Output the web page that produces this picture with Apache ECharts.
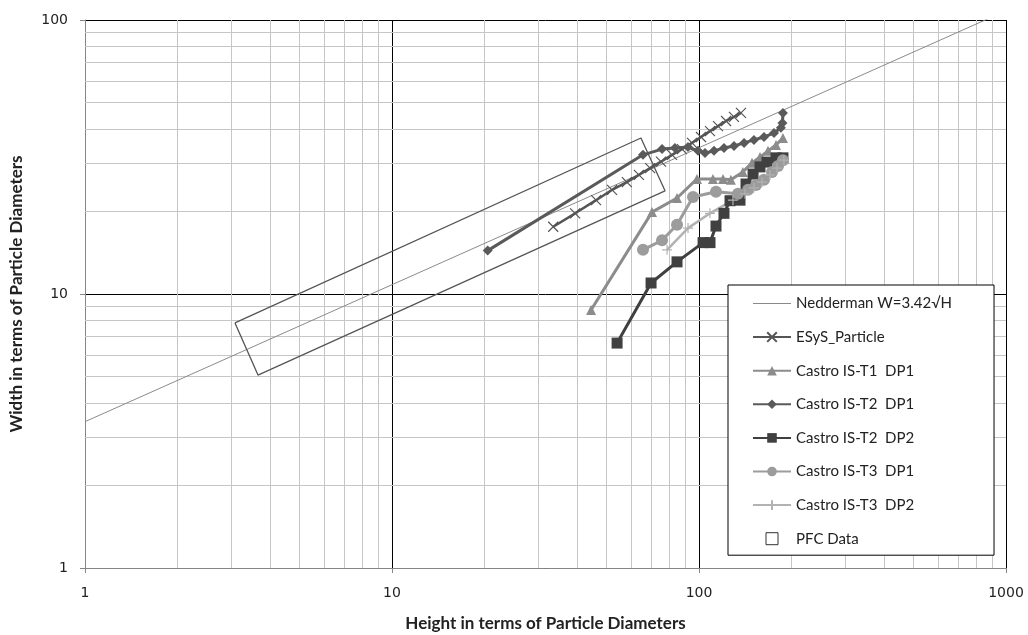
<!DOCTYPE html>
<html>
<head>
<meta charset="utf-8">
<script src="https://cdn.jsdelivr.net/npm/echarts@6/dist/echarts.min.js"></script>
<style>html,body{margin:0;padding:0;background:#fff}#c{width:1028px;height:635px}</style>
</head>
<body>
<div id="c"></div>
<script>
// ---- data ----
const xTickLabels = ['1', '10', '100', '1000'];
const yTickLabels = ['1', '10', '100'];
const minorTicksX = [2,3,4,5,6,7,8,9,20,30,40,50,60,70,80,90,200,300,400,500,600,700,800,900];
const minorTicksY = [2,3,4,5,6,7,8,9,20,30,40,50,60,70,80,90];

const nedderman = [[1, 3.42], [1000, 108.1]];
const esys = [[33.5,17.6],[39.5,19.7],[46.2,22.0],[52.1,24.0],[58.2,25.6],[63.7,27.2],[69.3,28.8],[75.2,30.4],[81.7,32.2],[88.0,33.8],[94.9,35.6],[101.5,37.4],[108.6,39.3],[115.3,41.0],[122.5,42.8],[130,44.3],[137,45.8]];
const t1dp1 = [[44.5,8.74],[70.3,19.9],[84.8,22.4],[98.5,26.3],[111,26.3],[119.7,26.3],[127,26.1],[139,27.9],[148.8,30.1],[158,31.6],[167.8,33.3],[178.2,35.0],[187.7,37.1]];
const t2dp1 = [[20.5,14.4],[65.7,32.2],[75.8,33.8],[83.5,34.1],[92.1,34.4],[99.3,33.3],[104.6,32.7],[111.9,33.3],[120.6,34.1],[130,34.7],[140.2,35.6],[151,36.5],[162.8,37.4],[175.5,38.7],[184.8,40.4],[187,42.1],[187.7,45.8]];
const t2dp2 = [[54.1,6.62],[69.8,10.97],[84.8,13.1],[103.1,15.4],[108.6,15.4],[113.6,17.7],[120.6,19.7],[126.2,21.9],[136,22.0],[142.3,25.2],[150,27.4],[158,29.1],[166.5,30.3],[178.2,31.4],[187.7,31.4]];
const t3dp1 = [[65.7,14.5],[75.8,15.7],[84.8,17.9],[95.6,22.6],[113.6,23.6],[134,23.2],[144.5,24.0],[153.4,25.0],[162.8,26.1],[172.9,27.9],[180.9,29.3],[187.7,30.8]];
const t3dp2 = [[78.7,14.5],[92.1,17.4],[108.6,19.7],[129,22.0],[141.2,23.2],[151,24.4],[160.4,25.6],[170.3,27.2],[179.5,28.8],[189,30.8]];
const pfc = [[3.08,7.84],[3.66,5.06],[77.5,23.8],[64.7,37.1],[3.08,7.84]];

const names = ['Nedderman W=3.42\u221AH','ESyS_Particle','Castro IS-T1  DP1','Castro IS-T2  DP1','Castro IS-T2  DP2','Castro IS-T3  DP1','Castro IS-T3  DP2','PFC Data'];

const chart = echarts.init(document.getElementById('c'), null, {renderer: 'canvas'});
const tickFont = 'DejaVu Sans';
const titleFont = 'Lato';

function lineSeries(name, data, color, width, symbol, size, extra) {
  return Object.assign({
    name: name, type: 'line', data: data, z: 3,
    symbol: symbol, symbolSize: size, showSymbol: symbol !== 'none',
    lineStyle: {color: color, width: width},
    itemStyle: {color: color},
    emphasis: {disabled: true},
    clip: true
  }, extra || {});
}

const markData = minorTicksX.map(v => ({xAxis: v})).concat(minorTicksY.map(v => ({yAxis: v})));

const option = {
  animation: false,
  grid: {left: 85, right: 22, top: 20, bottom: 67, containLabel: false, outerBoundsMode: 'none'},
  xAxis: {
    type: 'log', logBase: 10, min: 1, max: 1000,
    axisLine: {show: true, lineStyle: {color: '#868686', width: 1}},
    axisTick: {show: true, length: 5, lineStyle: {color: '#868686'}},
    splitLine: {show: true, lineStyle: {color: '#000', width: 1}},
    axisLabel: {fontFamily: tickFont, fontSize: 14, color: '#222', margin: 18,
      formatter: v => xTickLabels[Math.round(Math.log10(v))]},
    name: 'Height in terms of Particle Diameters', nameLocation: 'middle', nameGap: 47,
    nameTextStyle: {fontFamily: titleFont, fontWeight: 'bold', fontSize: 17, color: '#222'}
  },
  yAxis: {
    type: 'log', logBase: 10, min: 1, max: 100,
    axisLine: {show: true, lineStyle: {color: '#868686', width: 1}},
    axisTick: {show: true, length: 5, lineStyle: {color: '#868686'}},
    splitLine: {show: true, lineStyle: {color: '#000', width: 1}},
    axisLabel: {fontFamily: tickFont, fontSize: 14, color: '#222', margin: 17,
      formatter: v => yTickLabels[Math.round(Math.log10(v))]},
    name: 'Width in terms of Particle Diameters', nameLocation: 'middle', nameGap: 60, nameRotate: 90,
    nameTextStyle: {fontFamily: titleFont, fontWeight: 'bold', fontSize: 17, color: '#222'}
  },
  legend: {
    orient: 'vertical', left: 728, top: 285,
    backgroundColor: '#fff', borderColor: '#000', borderWidth: 1,
    padding: [11, 42, 9, 24],
    itemWidth: 38, itemHeight: 12, itemGap: 18.6,
    textStyle: {fontFamily: titleFont, fontSize: 15, color: '#222'},
    selectedMode: false,
    data: [
      {name: names[0], icon: 'path://M0,0H38V1.2H0Z', itemStyle: {color: '#8a8a8a', borderWidth: 0}},
      {name: names[1]}, {name: names[2]}, {name: names[3]},
      {name: names[4]}, {name: names[5]}, {name: names[6]},
      {name: names[7], icon: 'path://M0,0H10V10H0Z', itemStyle: {color: '#fff', borderColor: '#333', borderWidth: 1}}
    ]
  },
  series: [
    {type: 'line', data: [], silent: true, z: 1,
      markLine: {silent: true, symbol: 'none', z: 1, animation: false,
        label: {show: false}, emphasis: {disabled: true},
        lineStyle: {type: 'solid', color: '#c6c6c6', width: 1},
        data: markData}},
    lineSeries(names[0], nedderman, '#8a8a8a', 1, 'none', 0),
    lineSeries(names[1], esys, '#555555', 2.5, 'path://M0,0L10,10M10,0L0,10', 10,
      {itemStyle: {color: 'rgba(0,0,0,0)', borderColor: '#555555', borderWidth: 1.2}}),
    lineSeries(names[2], t1dp1, '#8c8c8c', 3, 'triangle', 10),
    lineSeries(names[3], t2dp1, '#5a5a5a', 3, 'diamond', 10),
    lineSeries(names[4], t2dp2, '#404040', 3, 'rect', 11),
    lineSeries(names[5], t3dp1, '#9c9c9c', 3, 'circle', 12),
    lineSeries(names[6], t3dp2, '#b2b2b2', 2.5, 'path://M5,0L5,10M0,5L10,5', 10,
      {itemStyle: {color: 'rgba(0,0,0,0)', borderColor: '#b2b2b2', borderWidth: 1.2}}),
    lineSeries(names[7], pfc, '#555555', 1.3, 'none', 0)
  ]
};
chart.setOption(option);
</script>
</body>
</html>
